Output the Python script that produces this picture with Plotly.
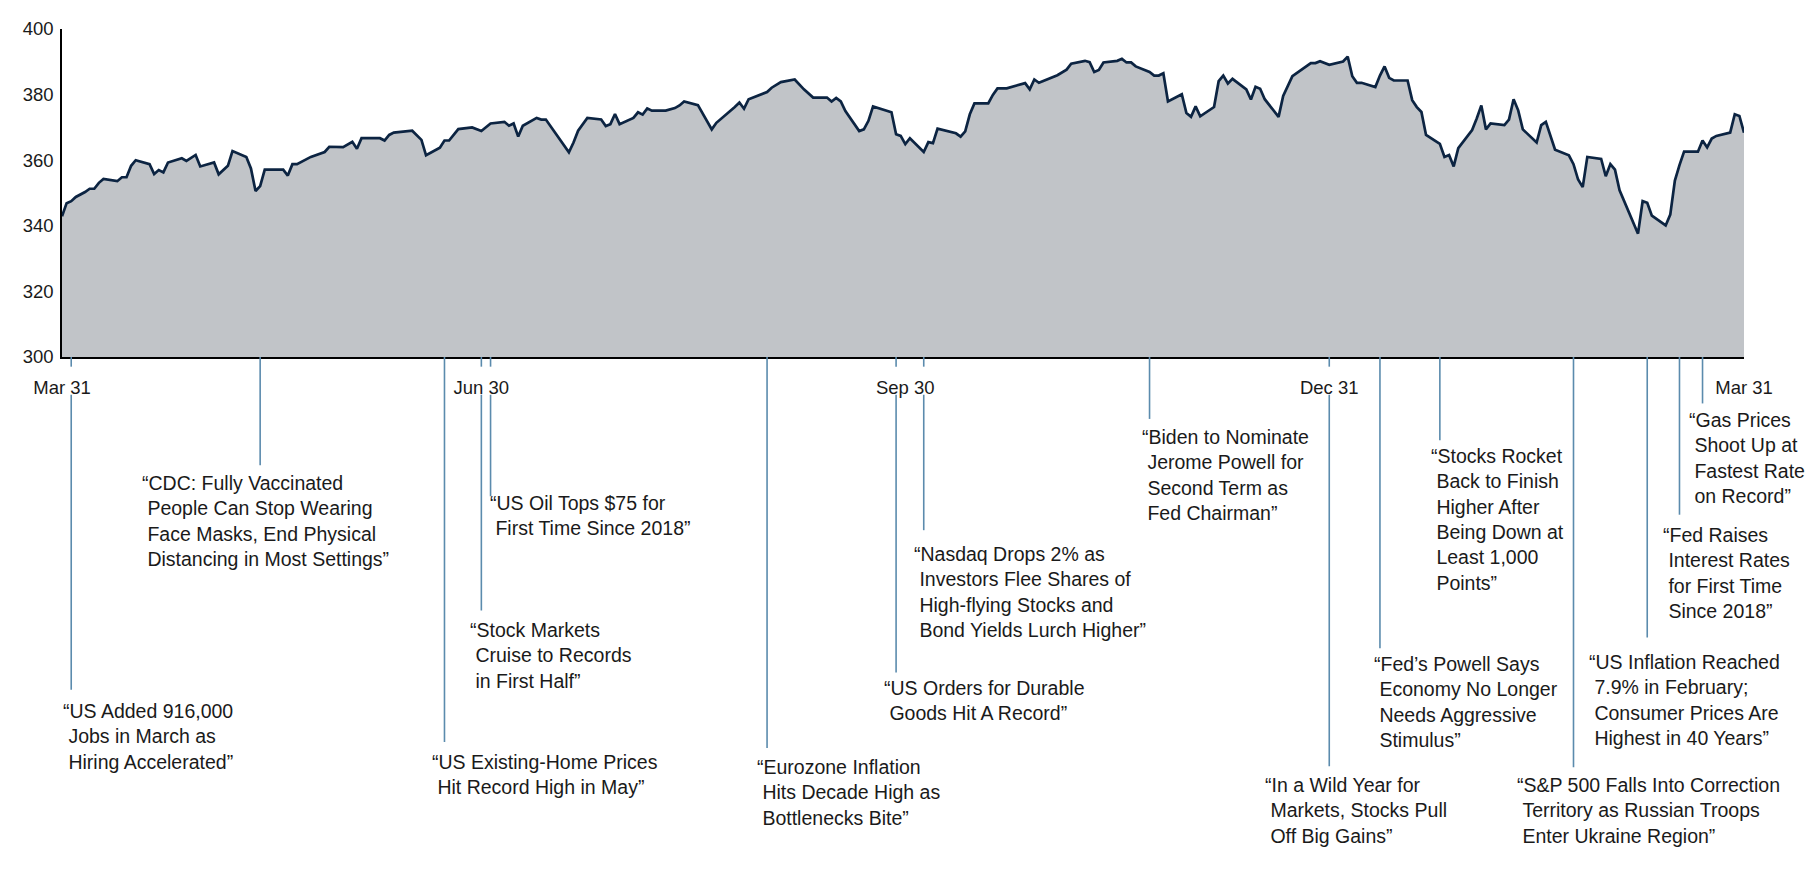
import plotly.graph_objects as go
import pandas as pd

# ---------------- data ----------------
dates = [
    "2021-03-31", "2021-04-01", "2021-04-02", "2021-04-03", "2021-04-05", "2021-04-06", "2021-04-07",
    "2021-04-08", "2021-04-09", "2021-04-12", "2021-04-13", "2021-04-14", "2021-04-15", "2021-04-16",
    "2021-04-19", "2021-04-20", "2021-04-21", "2021-04-22", "2021-04-23", "2021-04-26", "2021-04-27",
    "2021-04-29", "2021-04-30", "2021-05-03", "2021-05-04", "2021-05-06", "2021-05-07", "2021-05-10",
    "2021-05-11", "2021-05-12", "2021-05-13", "2021-05-14", "2021-05-18", "2021-05-19", "2021-05-20",
    "2021-05-21", "2021-05-24", "2021-05-27", "2021-05-28", "2021-05-31", "2021-06-02", "2021-06-03",
    "2021-06-04", "2021-06-08", "2021-06-09", "2021-06-10", "2021-06-11", "2021-06-15", "2021-06-17",
    "2021-06-18", "2021-06-21", "2021-06-22", "2021-06-23", "2021-06-25", "2021-06-28", "2021-06-30",
    "2021-07-02", "2021-07-05", "2021-07-06", "2021-07-07", "2021-07-08", "2021-07-09", "2021-07-12",
    "2021-07-13", "2021-07-14", "2021-07-19", "2021-07-20", "2021-07-21", "2021-07-23", "2021-07-26",
    "2021-07-27", "2021-07-28", "2021-07-29", "2021-07-30", "2021-08-02", "2021-08-03", "2021-08-04",
    "2021-08-05", "2021-08-06", "2021-08-09", "2021-08-11", "2021-08-12", "2021-08-13", "2021-08-16",
    "2021-08-19", "2021-08-20", "2021-08-24", "2021-08-25", "2021-08-26", "2021-08-27", "2021-08-31",
    "2021-09-01", "2021-09-03", "2021-09-06", "2021-09-08", "2021-09-10", "2021-09-13", "2021-09-14",
    "2021-09-15", "2021-09-16", "2021-09-17", "2021-09-20", "2021-09-21", "2021-09-22", "2021-09-23",
    "2021-09-27", "2021-09-28", "2021-09-29", "2021-09-30", "2021-10-01", "2021-10-04", "2021-10-05",
    "2021-10-06", "2021-10-07", "2021-10-11", "2021-10-12", "2021-10-13", "2021-10-14", "2021-10-15",
    "2021-10-18", "2021-10-19", "2021-10-20", "2021-10-22", "2021-10-26", "2021-10-27", "2021-10-28",
    "2021-10-29", "2021-11-02", "2021-11-04", "2021-11-05", "2021-11-08", "2021-11-09", "2021-11-10",
    "2021-11-11", "2021-11-12", "2021-11-15", "2021-11-16", "2021-11-17", "2021-11-18", "2021-11-19",
    "2021-11-22", "2021-11-23", "2021-11-24", "2021-11-25", "2021-11-26", "2021-11-29", "2021-11-30",
    "2021-12-01", "2021-12-02", "2021-12-03", "2021-12-06", "2021-12-07", "2021-12-08", "2021-12-09",
    "2021-12-10", "2021-12-13", "2021-12-14", "2021-12-15", "2021-12-16", "2021-12-17", "2021-12-20",
    "2021-12-21", "2021-12-23", "2021-12-24", "2021-12-27", "2021-12-28", "2021-12-29", "2021-12-31",
    "2022-01-03", "2022-01-04", "2022-01-05", "2022-01-06", "2022-01-07", "2022-01-10", "2022-01-11",
    "2022-01-12", "2022-01-13", "2022-01-14", "2022-01-17", "2022-01-18", "2022-01-19", "2022-01-20",
    "2022-01-21", "2022-01-24", "2022-01-25", "2022-01-26", "2022-01-27", "2022-01-28", "2022-01-31",
    "2022-02-01", "2022-02-02", "2022-02-03", "2022-02-04", "2022-02-07", "2022-02-08", "2022-02-09",
    "2022-02-10", "2022-02-11", "2022-02-14", "2022-02-15", "2022-02-16", "2022-02-18", "2022-02-21",
    "2022-02-22", "2022-02-23", "2022-02-24", "2022-02-25", "2022-02-28", "2022-03-01", "2022-03-02",
    "2022-03-03", "2022-03-04", "2022-03-08", "2022-03-09", "2022-03-10", "2022-03-11", "2022-03-14",
    "2022-03-15", "2022-03-16", "2022-03-17", "2022-03-18", "2022-03-21", "2022-03-22", "2022-03-23",
    "2022-03-24", "2022-03-25", "2022-03-28", "2022-03-29", "2022-03-30", "2022-03-31",
]
values = [
    342.9, 346.9, 347.5, 348.8, 350.3, 351.3, 351.3,
    353.1, 354.3, 353.6, 354.8, 354.8, 358.3, 360.0,
    358.8, 355.8, 357.0, 356.3, 359.3, 360.6, 359.8,
    361.6, 358.1, 359.3, 355.7, 358.3, 362.8, 361.0,
    357.5, 350.6, 352.1, 357.1, 357.1, 355.3, 358.8,
    358.8, 361.0, 362.5, 364.1, 364.0, 365.6, 363.5,
    366.7, 366.7, 366.0, 367.7, 368.4, 369.0, 366.2,
    361.5, 363.8, 366.0, 366.0, 369.5, 370.0, 368.9,
    371.2, 371.7, 370.5, 371.2, 367.2, 370.5, 372.9,
    372.4, 372.4, 362.4, 365.4, 369.0, 372.9, 372.4,
    370.4, 371.0, 374.1, 371.0, 372.9, 374.6, 373.9,
    375.8, 375.1, 375.1, 375.9, 376.7, 377.9, 376.8,
    369.4, 371.4, 376.2, 377.6, 375.7, 378.6, 380.8,
    382.1, 383.8, 384.6, 381.6, 379.1, 379.1, 377.9,
    379.0, 377.9, 375.0, 368.9, 369.4, 372.0, 376.4,
    374.6, 367.9, 367.4, 364.9, 366.7, 362.5, 365.5,
    365.2, 369.6, 368.2, 367.2, 368.8, 374.0, 377.3,
    377.3, 379.9, 381.9, 381.9, 383.5, 381.6, 384.6,
    383.6, 385.9, 387.6, 389.4, 390.3, 389.9, 386.9,
    387.5, 389.8, 390.3, 390.9, 389.8, 389.8, 388.6,
    386.9, 385.8, 385.8, 386.5, 377.9, 380.1, 374.4,
    373.2, 376.4, 373.4, 376.2, 384.1, 385.8, 383.4,
    384.8, 381.6, 378.5, 382.4, 381.8, 378.6, 373.2,
    379.6, 385.6, 386.6, 389.6, 389.6, 390.2, 389.1,
    390.1, 391.6, 385.6, 383.6, 383.6, 382.3, 385.8,
    388.6, 385.1, 384.3, 384.3, 378.3, 376.2, 374.7,
    367.7, 365.0, 361.0, 361.6, 358.1, 363.7, 369.2,
    372.7, 376.7, 369.4, 371.2, 370.7, 372.4, 378.6,
    375.2, 369.4, 365.4, 370.7, 371.7, 363.2, 361.5,
    358.8, 354.1, 351.8, 361.0, 360.4, 355.1, 358.8,
    357.1, 350.8, 337.6, 347.5, 347.0, 343.1, 340.1,
    343.4, 353.8, 358.5, 362.6, 362.6, 366.0, 363.9,
    366.6, 367.4, 368.4, 374.0, 373.5, 368.4,
]

tick_dates = ["2021-03-31", "2021-06-30", "2021-09-30", "2021-12-31", "2022-03-31"]
tick_labels = ["Mar 31", "Jun 30", "Sep 30", "Dec 31", "Mar 31"]
y_ticks = [300, 320, 340, 360, 380, 400]

event_dates = [
    "2021-04-02", "2021-05-13", "2021-06-22", "2021-06-30", "2021-07-02", "2021-08-31",
    "2021-09-28", "2021-10-04", "2021-11-22", "2021-12-31", "2022-01-11", "2022-01-24",
    "2022-02-22", "2022-03-10", "2022-03-17", "2022-03-22",
]
event_texts = [
    "“US Added 916,000<br>\u00a0Jobs in March as<br>\u00a0Hiring Accelerated”",
    "“CDC: Fully Vaccinated<br>\u00a0People Can Stop Wearing<br>\u00a0Face Masks, End Physical<br>\u00a0Distancing in Most Settings”",
    "“US Existing-Home Prices<br>\u00a0Hit Record High in May”",
    "“Stock Markets<br>\u00a0Cruise to Records<br>\u00a0in First Half”",
    "“US Oil Tops $75 for<br>\u00a0First Time Since 2018”",
    "“Eurozone Inflation<br>\u00a0Hits Decade High as<br>\u00a0Bottlenecks Bite”",
    "“US Orders for Durable<br>\u00a0Goods Hit A Record”",
    "“Nasdaq Drops 2% as<br>\u00a0Investors Flee Shares of<br>\u00a0High-flying Stocks and<br>\u00a0Bond Yields Lurch Higher”",
    "“Biden to Nominate<br>\u00a0Jerome Powell for<br>\u00a0Second Term as<br>\u00a0Fed Chairman”",
    "“In a Wild Year for<br>\u00a0Markets, Stocks Pull<br>\u00a0Off Big Gains”",
    "“Fed’s Powell Says<br>\u00a0Economy No Longer<br>\u00a0Needs Aggressive<br>\u00a0Stimulus”",
    "“Stocks Rocket<br>\u00a0Back to Finish<br>\u00a0Higher After<br>\u00a0Being Down at<br>\u00a0Least 1,000<br>\u00a0Points”",
    "“S&P 500 Falls Into Correction<br>\u00a0Territory as Russian Troops<br>\u00a0Enter Ukraine Region”",
    "“US Inflation Reached<br>\u00a07.9% in February;<br>\u00a0Consumer Prices Are<br>\u00a0Highest in 40 Years”",
    "“Fed Raises<br>\u00a0Interest Rates<br>\u00a0for First Time<br>\u00a0Since 2018”",
    "“Gas Prices<br>\u00a0Shoot Up at<br>\u00a0Fastest Rate<br>\u00a0on Record”",
]

# ---------------- layout (figure pixels) ----------------
event_line_end_px = [693, 461, 747, 611, 493, 753, 675, 528, 413, 772, 650, 435, 773, 639, 512, 397]
event_text_dx_px = [-10, -120, -14, -13, -3, -12, -14, -12, -10, -66, -8, -11, -59, -60, -18, -16]
event_text_mid_px = [741, 519, 780, 658, 513, 799, 704, 592, 471, 818, 706, 517, 818, 703, 572, 453]

W, H = 1814, 871
M = dict(l=54, r=78, t=10, b=522)
plot_top = M["t"]
plot_bottom = H - M["b"]
label_band = (plot_bottom + 10, plot_bottom + 39)

FONT = "Arial, 'Liberation Sans', sans-serif"
LINE_COLOR = "#0c2442"
FILL_COLOR = "#c1c4c8"
EVENT_COLOR = "#5b8bad"
TEXT_COLOR = "#1a1a1a"


def paper_y(py):
    return (plot_bottom - py) / (plot_bottom - plot_top)


fig = go.Figure()
fig.add_trace(go.Scatter(
    x=dates, y=values, mode="lines",
    line=dict(color=LINE_COLOR, width=2.7),
    fill="tozeroy", fillcolor=FILL_COLOR,
    hoverinfo="skip", showlegend=False,
))

tick_ts = pd.to_datetime(tick_dates)
shapes = []
annotations = []
for d, txt, end, dx, mid in zip(event_dates, event_texts, event_line_end_px,
                                event_text_dx_px, event_text_mid_px):
    t = pd.Timestamp(d)
    near = min(abs((t - tt).days) for tt in tick_ts) <= 7
    segs = [(plot_bottom, label_band[0]), (label_band[1], end)] if near else [(plot_bottom, end)]
    for y0, y1 in segs:
        shapes.append(dict(
            type="line", xref="x", yref="paper", x0=d, x1=d,
            y0=paper_y(y0), y1=paper_y(y1),
            line=dict(color=EVENT_COLOR, width=1.6), layer="above",
        ))
    annotations.append(dict(
        x=d, xref="x", xshift=dx, xanchor="left",
        y=paper_y(mid), yref="paper", yanchor="middle",
        text=txt, align="left", showarrow=False,
        font=dict(family=FONT, size=19.5, color=TEXT_COLOR),
    ))

fig.update_layout(
    width=W, height=H,
    margin=M,
    paper_bgcolor="white", plot_bgcolor="white",
    shapes=shapes, annotations=annotations,
    showlegend=False,
    font=dict(family=FONT, color=TEXT_COLOR),
)
fig.update_xaxes(
    type="date", range=[tick_dates[0], tick_dates[-1]],
    tickvals=tick_dates, ticktext=tick_labels,
    showgrid=False, zeroline=False,
    showline=True, linecolor="black", linewidth=2,
    ticks="", ticklabelstandoff=13, ticklabeloverflow="allow",
    tickfont=dict(family=FONT, size=18.5, color=TEXT_COLOR),
)
fig.update_yaxes(
    range=[300, 400], tickvals=y_ticks,
    showgrid=False, zeroline=False,
    showline=True, linecolor="black", linewidth=1.5,
    ticks="", ticklabelstandoff=3, ticklabeloverflow="allow",
    tickfont=dict(family=FONT, size=18.5, color=TEXT_COLOR),
)

fig.write_html("out.html")
